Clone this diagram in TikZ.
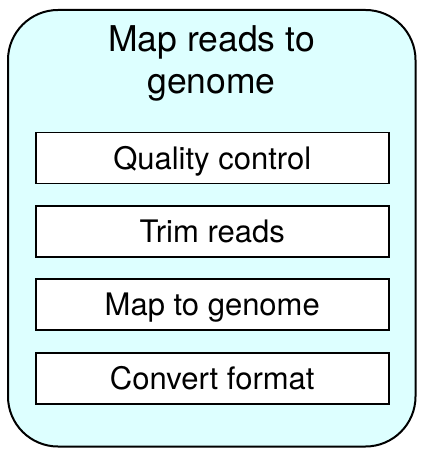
\documentclass[tikz,border=0pt]{standalone}
\usepackage{fontspec}
\setmainfont{TeX Gyre Heros}
\definecolor{cyanfill}{HTML}{DDFFFF}
\begin{document}
\begin{tikzpicture}[x=1pt,y=-1pt,
  stepbox/.style={draw=black,line width=1.5pt,fill=white,minimum width=353pt,minimum height=51pt,inner sep=0pt,text height=22.5pt,text depth=0pt,font=\fontsize{31}{36}\selectfont,anchor=north west},
  titletext/.style={anchor=base,inner sep=0pt,font=\fontsize{35.5}{42}\selectfont}]
\useasboundingbox (0,0) rectangle (421,462);
\draw[line width=2pt,fill=cyanfill,rounded corners=50pt] (8,10) rectangle (415.5,446.5);
\node[titletext] (title1) at (211.5,51.5) {Map reads to};
\node[titletext] (title2) at (211.5,93.5) {genome};
\node[stepbox] (qc) at (35,132) {Quality control};
\node[stepbox] (trim) at (35,205) {Trim reads};
\node[stepbox] (map) at (35,278) {Map to genome};
\node[stepbox] (conv) at (35,352) {Convert format};
\end{tikzpicture}
\end{document}
